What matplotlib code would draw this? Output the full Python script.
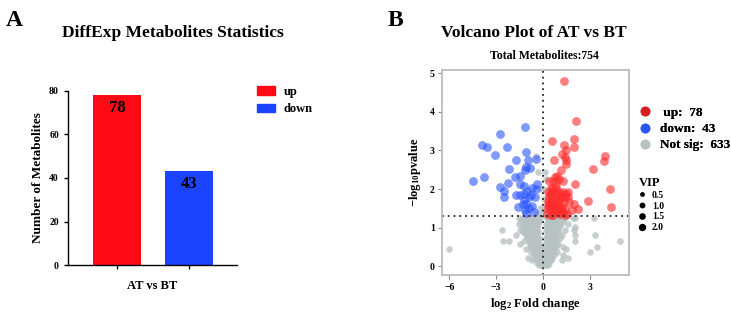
import matplotlib
matplotlib.use('Agg')
import matplotlib.pyplot as plt
from matplotlib.patches import Patch
from matplotlib.lines import Line2D

plt.rcParams['font.family'] = ['Liberation Serif', 'DejaVu Serif']
plt.rcParams['font.weight'] = 'bold'
plt.rcParams['mathtext.fontset'] = 'custom'
plt.rcParams['mathtext.rm'] = 'Liberation Serif:bold'
plt.rcParams['mathtext.it'] = 'Liberation Serif:bold'

# ---- panel A data ----
bar_groups = ['up', 'down']
bar_counts = [78, 43]
bar_colors = ['#ff0a14', '#1a44ff']
comparison = 'AT vs BT'

# ---- panel B data (log2 FC, -log10 p) ----
up_x = [1.35, 2.15, 0.56, 2.02, 1.37, 1.20, 1.50, 1.39, 1.48, 1.97, 0.69, 1.48, 4.01, 3.93,
        3.20, 4.29, 4.38, 2.92, 2.04, 1.16, 0.92, 0.39, 0.49, 1.29, 0.64, 1.03, 0.82, 1.48,
        1.44, 1.61, 0.39, 0.60, 0.82, 1.03, 0.39, 0.60, 0.90, 1.09, 1.35, 0.34, 0.56, 0.82,
        1.07, 1.29, 1.55, 1.85, 2.23, 0.82, 0.56, 0.77, 0.86, 1.03, 0.43, 0.60, 0.92, 1.14,
        0.34, 0.49, 0.71, 0.99, 1.24, 1.44, 1.61, 0.30, 0.45, 1.29, 1.70, 0.28, 1.44, 1.98,
        0.52, 0.75, 1.15, 0.36, 0.66, 0.95, 1.20, 0.58]
up_y = [4.80, 3.76, 3.24, 3.30, 3.13, 2.90, 3.00, 2.84, 2.74, 3.08, 2.74, 2.64, 2.86, 2.72,
        2.51, 2.00, 1.54, 1.70, 2.12, 2.49, 2.35, 2.20, 2.02, 2.20, 2.22, 1.92, 2.05, 1.88,
        1.79, 1.79, 1.79, 1.70, 1.75, 1.70, 1.62, 1.55, 1.57, 1.53, 1.66, 1.49, 1.43, 1.40,
        1.36, 1.40, 1.36, 1.46, 1.47, 1.97, 1.92, 2.31, 2.15, 2.26, 1.88, 1.83, 1.88, 1.79,
        1.70, 1.32, 1.62, 1.49, 1.53, 1.49, 1.92, 1.92, 1.53, 1.92, 1.66, 1.36, 1.32, 1.62,
        1.65, 1.45, 1.40, 1.58, 1.33, 1.68, 1.85, 2.00]
down_x = [-1.12, -2.75, -3.91, -3.61, -2.28, -3.10, -1.07, -0.43, -0.94, -1.70, -2.19, -1.07,
          -1.12, -0.82, -3.78, -4.51, -2.73, -2.49, -2.51, -2.23, -1.80, -1.46, -1.48, -1.22,
          -1.72, -1.46, -1.18, -0.99, -0.69, -0.39, -0.41, -0.92, -0.75, -1.22, -1.07, -0.69,
          -1.59, -1.16, -0.58, -1.05, -0.86, -1.29, -0.52]
down_y = [3.61, 3.43, 3.13, 3.09, 3.08, 2.87, 2.97, 2.78, 2.76, 2.75, 2.52, 2.58,
          2.48, 2.55, 2.31, 2.22, 2.05, 1.94, 1.79, 2.15, 2.31, 2.35, 2.12, 2.07,
          1.84, 1.85, 1.88, 1.94, 2.03, 2.12, 2.00, 1.79, 1.84, 1.72, 1.62, 1.57,
          1.53, 1.45, 1.40, 1.38, 1.51, 1.62, 1.79]

# not significant points, grouped by -log10 p level
ns_levels = [2.85, 2.45, 2.25, 2.0, 1.75, 1.5, 1.38,
             1.25, 1.18, 1.1, 1.02, 0.95, 0.88, 0.8, 0.72, 0.65, 0.57, 0.5,
             0.45, 0.37, 0.3, 0.22, 0.15, 0.08, 0.02]
ns_rows = [
    [-0.45],
    [-0.3, 0.15],
    [0.2],
    [-0.15, 0.1],
    [0.05, 0.25],
    [-0.2, 0.1],
    [-0.35, -0.05, 0.2],
    [-1.5, -1.3, -1.1, -0.95, -0.8, -0.65, -0.5, -0.35, -0.2, 0.25, 0.4, 0.55, 0.7, 0.85,
     1.0, 1.2, 1.45, 1.9, 2.05, 3.25],
    [-1.4, -1.2, -1.0, -0.85, -0.7, -0.55, -0.4, -0.25, 0.3, 0.45, 0.6, 0.75, 0.9, 1.1, 1.3],
    [-1.5, -1.25, -1.05, -0.9, -0.75, -0.6, -0.45, -0.3, 0.2, 0.35, 0.5, 0.65, 0.8, 0.95,
     1.15, 1.6],
    [-1.3, -1.1, -0.95, -0.8, -0.65, -0.5, -0.35, 0.25, 0.4, 0.55, 0.7, 0.85, 1.05, 2.05],
    [-2.65, -1.45, -1.2, -1.0, -0.85, -0.7, -0.55, -0.4, 0.2, 0.35, 0.5, 0.65, 0.8, 1.0,
     1.4, 2.0],
    [-1.25, -1.05, -0.9, -0.75, -0.6, -0.45, -0.3, 0.3, 0.45, 0.6, 0.75, 0.95],
    [-1.7, -1.1, -0.95, -0.8, -0.65, -0.5, -0.35, 0.25, 0.4, 0.55, 0.7, 0.85, 1.2, 2.05, 3.35],
    [-1.0, -0.85, -0.7, -0.55, -0.4, -0.25, 0.2, 0.35, 0.5, 0.65, 0.8, 1.1],
    [-2.55, -2.2, -1.2, -0.9, -0.75, -0.6, -0.45, -0.3, 0.25, 0.4, 0.55, 0.7, 0.9, 2.05, 4.95],
    [-1.45, -0.85, -0.7, -0.55, -0.4, -0.25, 0.15, 0.3, 0.45, 0.6, 0.75, 1.0],
    [-0.8, -0.65, -0.5, -0.35, -0.2, 0.2, 0.35, 0.5, 0.65, 0.85, 1.3, 3.5],
    [-6.0, -1.1, -0.6, -0.45, -0.3, 0.1, 0.25, 0.4, 0.55, 0.7, 1.5],
    [-0.75, -0.55, -0.4, -0.25, -0.1, 0.15, 0.3, 0.45, 0.6, 0.9, 3.0],
    [-0.6, -0.45, -0.3, -0.15, 0.05, 0.2, 0.35, 0.5, 0.7, 1.3],
    [-0.95, -0.5, -0.35, -0.2, -0.05, 0.1, 0.25, 0.4, 0.6, 1.6],
    [-0.7, -0.4, -0.25, -0.1, 0.05, 0.2, 0.35, 0.55, 1.2],
    [-0.35, -0.2, -0.05, 0.1, 0.25, 0.4],
    [-0.25, -0.1, 0.05, 0.2, 0.3],
]
n_up, n_down, n_ns = 78, 43, 633
total = 754
vip_sizes = [0.5, 1.0, 1.5, 2.0]

ns_x = []
ns_y = []
for lev, row in zip(ns_levels, ns_rows):
    for x in row:
        ns_x.append(x)
        ns_y.append(lev)

fig = plt.figure(figsize=(7.31, 3.17), dpi=100)

# ---------------- panel A ----------------
axA = fig.add_axes([0.093, 0.164, 0.231, 0.549])
axA.bar([0, 1], bar_counts, width=0.67, color=bar_colors)
for i, v in enumerate(bar_counts):
    axA.text(i, v - 2, str(v), ha='center', va='top', fontsize=12, fontweight='bold')
axA.set_xlim(-0.68, 1.67)
axA.set_ylim(0, 80)
axA.set_yticks([0, 20, 40, 60, 80])
axA.set_xticks([0, 1])
axA.set_xticklabels(['', ''])
axA.spines['top'].set_visible(False)
axA.spines['right'].set_visible(False)
axA.tick_params(labelsize=7, length=3, width=1)
for s in ['left', 'bottom']:
    axA.spines[s].set_linewidth(1.0)
axA.set_xlabel(comparison, fontsize=9, fontweight='bold', labelpad=4)
axA.set_ylabel('Number of Metabolites', fontsize=9.5, fontweight='bold', labelpad=4)
handlesA = [Patch(color=c, label=g) for c, g in zip(bar_colors, bar_groups)]
fig.legend(handles=handlesA, loc='upper left', bbox_to_anchor=(0.345, 0.745),
           frameon=False, fontsize=9, handlelength=1.4, handleheight=0.7,
           handletextpad=0.7, labelspacing=0.45, borderaxespad=0)
fig.text(0.236, 0.895, 'DiffExp Metabolites Statistics', ha='center', va='center',
         fontsize=12.5, fontweight='bold')
fig.text(0.008, 0.935, 'A', ha='left', va='center', fontsize=17, fontweight='bold')

# ---------------- panel B ----------------
axB = fig.add_axes([0.605, 0.132, 0.255, 0.647])
axB.scatter(ns_x, ns_y, s=22, color='#b8c2c2', alpha=0.8, linewidths=0)
axB.scatter(up_x, up_y, s=40, color='#ff2a2a', alpha=0.6, linewidths=0)
axB.scatter(down_x, down_y, s=40, color='#2a55ff', alpha=0.6, linewidths=0)
axB.axhline(1.3, color='#222222', linestyle=(0, (1, 2.2)), linewidth=1.3)
axB.axvline(0, color='#222222', linestyle=(0, (1, 2.2)), linewidth=1.3)
axB.set_xlim(-6.45, 5.5)
axB.set_ylim(-0.23, 5.08)
axB.set_xticks([-6, -3, 0, 3])
axB.set_yticks([0, 1, 2, 3, 4, 5])
for s in axB.spines.values():
    s.set_color('#b8b8b8')
    s.set_linewidth(1.2)
axB.tick_params(labelsize=7, length=3, width=0.8, color='#888888', pad=2.5)
axB.set_xlabel('log$_2$ Fold change', fontsize=9, fontweight='bold', labelpad=3)
axB.set_ylabel('$-$log$_{10}$pvalue', fontsize=9, fontweight='bold', labelpad=5)

grp = [Line2D([], [], marker='o', linestyle='', color='#d42020', markersize=6,
              label=' up:  %d' % n_up),
       Line2D([], [], marker='o', linestyle='', color='#2a55ff', markersize=6,
              label='down:  %d' % n_down),
       Line2D([], [], marker='o', linestyle='', color='#b8c2c2', markersize=6,
              label='Not sig:  %d' % n_ns)]
leg1 = fig.legend(handles=grp, loc='upper left', bbox_to_anchor=(0.868, 0.68),
                  frameon=False, fontsize=9.5, handlelength=0.8, handletextpad=0.7,
                  labelspacing=0.3, borderaxespad=0)
fig.add_artist(leg1)
vip = [Line2D([], [], marker='o', linestyle='', color='black',
              markersize=2.6 * v ** 0.5 + 0.6, label='%.1f' % v) for v in vip_sizes]
fig.legend(handles=vip, loc='upper left', bbox_to_anchor=(0.868, 0.455), title='VIP',
           title_fontproperties={'size': 9, 'weight': 'bold'}, frameon=False, fontsize=7,
           handlelength=0.8, handletextpad=0.6, labelspacing=0.2, borderaxespad=0,
           alignment='left')

fig.text(0.730, 0.895, 'Volcano Plot of AT vs BT', ha='center', va='center',
         fontsize=12.5, fontweight='bold')
fig.text(0.745, 0.823, 'Total Metabolites:%d' % total, ha='center', va='center',
         fontsize=8.5, fontweight='bold')
fig.text(0.530, 0.935, 'B', ha='left', va='center', fontsize=17, fontweight='bold')

fig.savefig('out.png', dpi=100)
